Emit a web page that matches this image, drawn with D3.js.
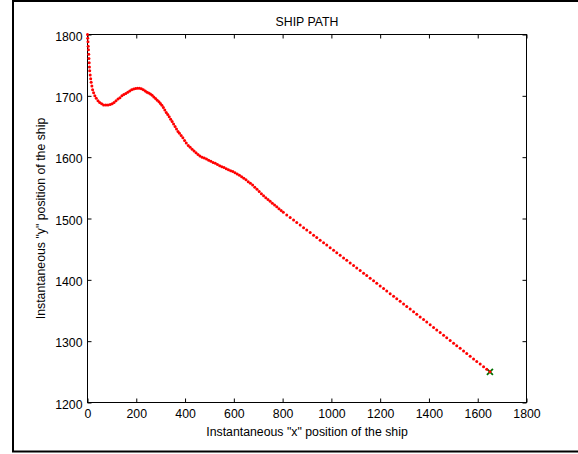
<!DOCTYPE html>
<html>
<head>
<meta charset="utf-8">
<script src="https://cdn.jsdelivr.net/npm/d3@7"></script>
<style>
  html, body { margin: 0; padding: 0; background: #fff; }
  svg { display: block; font-family: "Liberation Sans", Arial, Helvetica, sans-serif; }
</style>
</head>
<body>
<svg id="chart" width="578" height="454"></svg>
<script>
// Ship trajectory samples (x, y positions)
const shipX = [
  0, 1, 2, 3, 4, 5, 6, 7, 8, 9, 11, 13, 15, 18, 21, 25, 30, 36, 43, 50,
  58, 66, 75, 84, 93, 101, 109, 117, 125, 133, 141, 149, 157, 165, 173, 181, 189, 197, 205, 213,
  221, 229, 237, 244, 251, 258, 265, 272, 279, 286, 293, 299, 305, 311, 317, 323, 329, 335, 341, 347,
  353, 359, 365, 371, 377, 384, 391, 398, 405, 413, 421, 429, 437, 445, 453, 461, 470, 479, 488, 497,
  506, 515, 524, 533, 542, 551, 560, 569, 578, 587, 596, 605, 614, 623, 632, 641, 650, 659, 668, 677,
  686, 695, 704, 713, 722, 731, 740, 749, 758, 767, 776, 785, 794, 803,
  817, 831, 845, 858, 872, 886, 899, 913, 927, 940, 954, 968, 981, 995, 1009, 1022, 1036, 1050, 1063, 1077,
  1091, 1104, 1118, 1132, 1145, 1159, 1173, 1186, 1200, 1214, 1227, 1241, 1255, 1268, 1282, 1296, 1309, 1323, 1337, 1350,
  1364, 1378, 1391, 1405, 1419, 1432, 1446, 1460, 1473, 1487, 1501, 1514, 1528, 1542, 1555, 1569, 1583, 1596, 1610, 1624,
  1637, 1650
];
const shipY = [
  1800, 1794, 1788, 1781, 1775, 1768, 1761, 1754, 1747, 1741, 1734, 1728, 1722, 1716, 1710, 1705, 1700, 1696, 1692, 1689,
  1687, 1685, 1685, 1685, 1686, 1687, 1689, 1692, 1695, 1697, 1700, 1702, 1704, 1706, 1708, 1710, 1711, 1712, 1712.5, 1712.5,
  1711.5, 1710, 1708, 1706, 1704.5, 1703, 1701, 1698, 1695.5, 1693, 1690.5, 1687.5, 1684.5, 1681, 1677, 1673, 1669.5, 1666, 1662, 1658,
  1654, 1650, 1646, 1642, 1639, 1635.5, 1631.5, 1627, 1623, 1619, 1616, 1613, 1610, 1607, 1604.5, 1602, 1600, 1598.5, 1597, 1595,
  1593.5, 1591.5, 1590, 1588, 1586, 1584.5, 1583, 1581, 1579.5, 1578, 1576.5, 1574.5, 1572.5, 1570.5, 1568, 1565.5, 1563, 1560, 1557.5, 1554.5,
  1551, 1547.5, 1544, 1540.5, 1537, 1534, 1531, 1528, 1525, 1522, 1519, 1516, 1513, 1510,
  1505.8, 1501.6, 1497.4, 1493.5, 1489.3, 1485.1, 1481.2, 1477.0, 1472.8, 1468.9, 1464.7, 1460.5, 1456.6, 1452.4, 1448.1, 1444.2, 1440.0, 1435.8, 1431.8, 1427.6,
  1423.3, 1419.4, 1415.1, 1410.9, 1406.9, 1402.6, 1398.4, 1394.4, 1390.1, 1385.8, 1381.8, 1377.5, 1373.2, 1369.2, 1364.9, 1360.5, 1356.6, 1352.3, 1347.9, 1343.9,
  1339.5, 1335.2, 1331.1, 1326.8, 1322.4, 1318.4, 1314.0, 1309.6, 1305.5, 1301.1, 1296.7, 1292.7, 1288.3, 1283.9, 1279.8, 1275.4, 1271.0, 1266.9, 1262.6, 1258.2,
  1254.1, 1250
];
const endPoint = { x: 1650, y: 1250 };

const xTicks = [0, 200, 400, 600, 800, 1000, 1200, 1400, 1600, 1800];
const yTicks = [1200, 1300, 1400, 1500, 1600, 1700, 1800];

const titleText = "SHIP PATH";
const xLabelText = 'Instantaneous "x" position of the ship';
const yLabelText = 'Instantaneous "y" position of the ship';

(function draw() {
  const svg = d3.select("#chart");
  const plotLeft = 87.5, plotRight = 526.5, plotTop = 34.5, plotBottom = 402.5;
  const fontSize = 12.3;
  const fontStack = '"Liberation Sans", Arial, Helvetica, sans-serif';

  // Figure frame
  svg.append("rect")
    .attr("x", 13).attr("y", 1)
    .attr("width", 600).attr("height", 450.5)
    .attr("fill", "#fff")
    .attr("stroke", "#000")
    .attr("stroke-width", 2);

  const x = d3.scaleLinear().domain([0, 1800]).range([plotLeft, plotRight]);
  const y = d3.scaleLinear().domain([1200, 1800]).range([plotBottom, plotTop]);

  function styleAxis(g) {
    g.select(".domain").remove();
    g.selectAll(".tick line").attr("stroke", "#000").attr("stroke-width", 1);
    g.selectAll(".tick text")
      .attr("fill", "#000")
      .style("font-size", fontSize + "px")
      .style("font-family", fontStack);
  }

  // Bottom axis with labels, ticks pointing inward
  svg.append("g")
    .attr("transform", `translate(0,${plotBottom})`)
    .call(d3.axisBottom(x).tickValues(xTicks).tickSizeInner(-4).tickSizeOuter(0)
          .tickPadding(7).tickFormat(d3.format("d")))
    .call(styleAxis);

  // Top axis, ticks only
  svg.append("g")
    .attr("transform", `translate(0,${plotTop})`)
    .call(d3.axisTop(x).tickValues(xTicks).tickSizeInner(-4).tickSizeOuter(0).tickFormat(""))
    .call(styleAxis);

  // Left axis with labels
  const gy = svg.append("g")
    .attr("transform", `translate(${plotLeft},0)`)
    .call(d3.axisLeft(y).tickValues(yTicks).tickSizeInner(-4).tickSizeOuter(0)
          .tickPadding(5).tickFormat(d3.format("d")))
    .call(styleAxis);
  gy.selectAll(".tick text").attr("dy", "0.45em");

  // Right axis, ticks only
  svg.append("g")
    .attr("transform", `translate(${plotRight},0)`)
    .call(d3.axisRight(y).tickValues(yTicks).tickSizeInner(-4).tickSizeOuter(0).tickFormat(""))
    .call(styleAxis);

  // Axes box
  svg.append("rect")
    .attr("x", plotLeft).attr("y", plotTop)
    .attr("width", plotRight - plotLeft).attr("height", plotBottom - plotTop)
    .attr("fill", "none")
    .attr("stroke", "#000")
    .attr("stroke-width", 1);

  // End marker
  const ex = x(endPoint.x), ey = y(endPoint.y), s = 3;
  svg.append("path")
    .attr("d", `M${ex - s},${ey - s}L${ex + s},${ey + s}M${ex - s},${ey + s}L${ex + s},${ey - s}`)
    .attr("stroke", "#007000")
    .attr("stroke-width", 1.8)
    .attr("fill", "none");

  // Path samples
  const pts = d3.zip(shipX, shipY);
  svg.append("g")
    .selectAll("circle")
    .data(pts)
    .join("circle")
    .attr("cx", d => x(d[0]))
    .attr("cy", d => y(d[1]))
    .attr("r", 1.5)
    .attr("fill", "#ff0000");

  // Title and axis labels
  svg.append("text")
    .attr("x", (plotLeft + plotRight) / 2).attr("y", 26)
    .attr("text-anchor", "middle")
    .style("font-size", fontSize + "px")
    .text(titleText);

  svg.append("text")
    .attr("x", (plotLeft + plotRight) / 2).attr("y", 436)
    .attr("text-anchor", "middle")
    .style("font-size", fontSize + "px")
    .text(xLabelText);

  svg.append("text")
    .attr("transform", `translate(45,${(plotTop + plotBottom) / 2}) rotate(-90)`)
    .attr("text-anchor", "middle")
    .style("font-size", fontSize + "px")
    .text(yLabelText);
})();
</script>
</body>
</html>
